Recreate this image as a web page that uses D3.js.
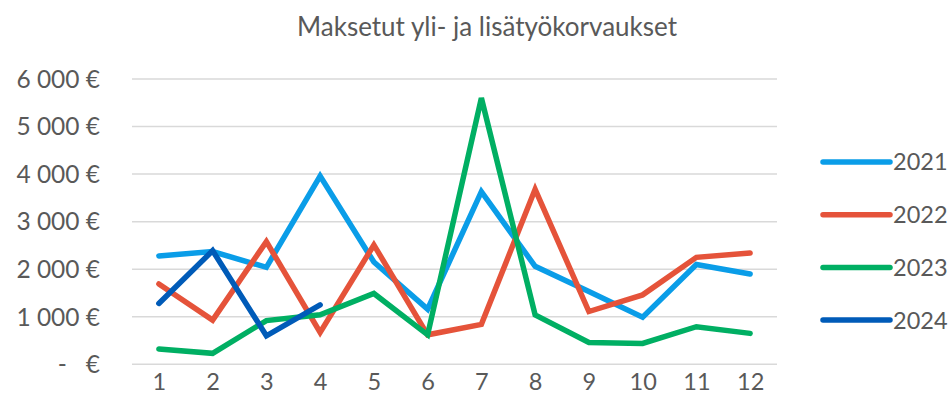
<!DOCTYPE html>
<html>
<head>
<meta charset="utf-8">
<script src="https://cdn.jsdelivr.net/npm/d3@7"></script>
<style>
  body { margin: 0; background: #fff; }
  text { font-family: Lato, "Open Sans", sans-serif; fill: #595959; }
</style>
</head>
<body>
<svg id="chart" width="952" height="410"></svg>
<script>
// chart data
var title = "Maksetut yli- ja lisätyökorvaukset";
var months = ["1", "2", "3", "4", "5", "6", "7", "8", "9", "10", "11", "12"];
var yTicks = [0, 1000, 2000, 3000, 4000, 5000, 6000];
var years = ["2021", "2022", "2023", "2024"];
var vals2021 = [2280, 2370, 2040, 3960, 2150, 1160, 3630, 2060, 1530, 990, 2100, 1900];
var vals2022 = [1690, 930, 2580, 670, 2510, 620, 840, 3680, 1110, 1460, 2250, 2340];
var vals2023 = [320, 230, 920, 1040, 1490, 620, 5600, 1040, 460, 440, 790, 650];
var vals2024 = [1280, 2390, 600, 1250];
var colors = ["#0a9de8", "#e5533a", "#00af63", "#005bb8"];

var series = [vals2021, vals2022, vals2023, vals2024].map(function(v, i) {
  return {name: years[i], color: colors[i], values: v};
});

var margin = {top: 79, left: 132, right: 175, bottom: 46},
    W = 952, H = 410;

var svg = d3.select("#chart");

var x = d3.scalePoint().domain(months).range([margin.left, W - margin.right]).padding(0.5);
var y = d3.scaleLinear().domain([0, 6000]).range([364.3, margin.top]);

// title
svg.append("text")
   .attr("x", 487)
   .attr("y", 36)
   .attr("text-anchor", "middle")
   .style("font-size", "26px")
   .text(title);

// gridlines
svg.append("g").selectAll("line")
   .data(yTicks)
   .join("line")
   .attr("x1", margin.left)
   .attr("x2", W - margin.right)
   .attr("y1", function(d) { return y(d); })
   .attr("y2", function(d) { return y(d); })
   .attr("stroke", "#d9d9d9")
   .attr("stroke-width", 1.5);

// y axis labels (accounting format)
var fmt = function(d) {
  if (d === 0) return "-   €";
  return d3.format(",")(d).replace(/,/g, " ") + " €";
};
svg.append("g").selectAll("text")
   .data(yTicks)
   .join("text")
   .attr("x", 100)
   .attr("y", function(d) { return y(d); })
   .attr("dy", "0.36em")
   .attr("text-anchor", "end")
   .style("font-size", "24.5px")
   .style("white-space", "pre")
   .text(fmt);

// x axis labels
var xAxis = d3.axisBottom(x).tickSize(0).tickPadding(0);
var gx = svg.append("g")
   .attr("transform", "translate(0,373)")
   .call(xAxis);
gx.select(".domain").remove();
gx.selectAll("text")
  .attr("dy", "0.71em")
  .style("font-size", "23.5px")
  .attr("fill", "#595959");

// lines
var line = d3.line()
  .x(function(d, i) { return x(months[i]); })
  .y(function(d) { return y(d); });

svg.append("g").selectAll("path")
   .data(series)
   .join("path")
   .attr("d", function(s) { return line(s.values); })
   .attr("fill", "none")
   .attr("stroke", function(s) { return s.color; })
   .attr("stroke-width", 5.5)
   .attr("stroke-linecap", "round")
   .attr("stroke-linejoin", "miter");

// legend
var leg = svg.append("g").selectAll("g")
   .data(series)
   .join("g")
   .attr("transform", function(s, i) { return "translate(823," + (162 + i * 52.7) + ")"; });
leg.append("line")
   .attr("x1", 0).attr("x2", 67)
   .attr("stroke", function(s) { return s.color; })
   .attr("stroke-width", 5.5)
   .attr("stroke-linecap", "round");
leg.append("text")
   .attr("x", 70)
   .attr("dy", "0.36em")
   .style("font-size", "23.5px")
   .text(function(s) { return s.name; });
</script>
</body>
</html>
